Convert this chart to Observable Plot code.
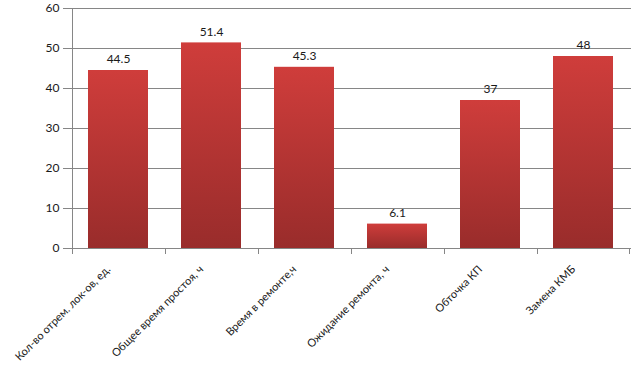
<!DOCTYPE html>
<html>
<head>
<meta charset="utf-8">
<script src="https://cdn.jsdelivr.net/npm/d3@7"></script>
<script src="https://cdn.jsdelivr.net/npm/@observablehq/plot@0.6"></script>
<style>
  html, body { margin: 0; padding: 0; background: #fff; }
  #chart svg { display: block; font-family: Lato, "DejaVu Sans", sans-serif; }
</style>
</head>
<body>
<div id="chart"></div>
<script>
const categories = [
  "Кол-во отрем. лок-ов, ед.",
  "Общее время простоя, ч",
  "Время в ремонте,ч",
  "Ожидание ремонта, ч",
  "Обточка КП",
  "Замена КМБ"
];
const values = [44.5, 51.4, 45.3, 6.1, 37, 48];
const yTicks = [0, 10, 20, 30, 40, 50, 60];

const data = categories.map((c, i) => ({cat: c, value: values[i]}));
const grid = "#868686";

const chart = Plot.plot({
  width: 643,
  height: 380,
  marginTop: 8,
  marginLeft: 70,
  marginRight: 12,
  marginBottom: 132,
  style: {fontFamily: "Lato, 'DejaVu Sans', sans-serif", color: "#1a1a1a", background: "#fff"},
  x: {domain: categories, paddingInner: 0.35, paddingOuter: 0.175, label: null},
  y: {domain: [0, 60], label: null},
  marks: [
    Plot.gridY(yTicks, {stroke: grid, strokeOpacity: 1}),
    Plot.barY(data, {x: "cat", y: "value", fill: "url(#barGrad)"}),
    Plot.text(data, {x: "cat", y: "value", text: d => String(d.value), dy: -11, fontSize: 12, fill: "#1a1a1a"}),
    Plot.axisY({ticks: yTicks, tickSize: 7, tickPadding: 4, stroke: grid, strokeOpacity: 1, fontSize: 12, label: null}),
    Plot.ruleY([0], {stroke: grid}),
    Plot.axisX({tickSize: 0, tickRotate: -45, tickPadding: 10, dx: -10, dy: 9, fontSize: 11, label: null})
  ]
});

const svg = d3.select(chart);
const defs = svg.insert("defs", ":first-child");
const g = defs.append("linearGradient").attr("id", "barGrad").attr("x1", 0).attr("y1", 0).attr("x2", 0).attr("y2", 1);
g.append("stop").attr("offset", "0%").attr("stop-color", "#cf3d3b");
g.append("stop").attr("offset", "100%").attr("stop-color", "#992c2b");

// band-boundary tick marks and y-axis line, from the library's scales
const xs = chart.scale("x");
const ys = chart.scale("y");
const y0 = ys.apply(0);
const step = xs.step;
const half = step * xs.paddingInner / 2;
const bounds = categories.map(c => xs.apply(c) - half);
bounds.push(xs.apply(categories[categories.length - 1]) + xs.bandwidth + half);
const tg = svg.append("g").attr("stroke", grid).attr("stroke-width", 1);
bounds.forEach(b => {
  const bx = Math.round(b) + 0.5;
  tg.append("line").attr("x1", bx).attr("x2", bx).attr("y1", y0).attr("y2", y0 + 6);
});
const left = Math.round(bounds[0]) + 0.5;
tg.append("line").attr("x1", left).attr("x2", left).attr("y1", ys.apply(60)).attr("y2", y0 + 6);

document.getElementById("chart").appendChild(chart);
</script>
</body>
</html>
